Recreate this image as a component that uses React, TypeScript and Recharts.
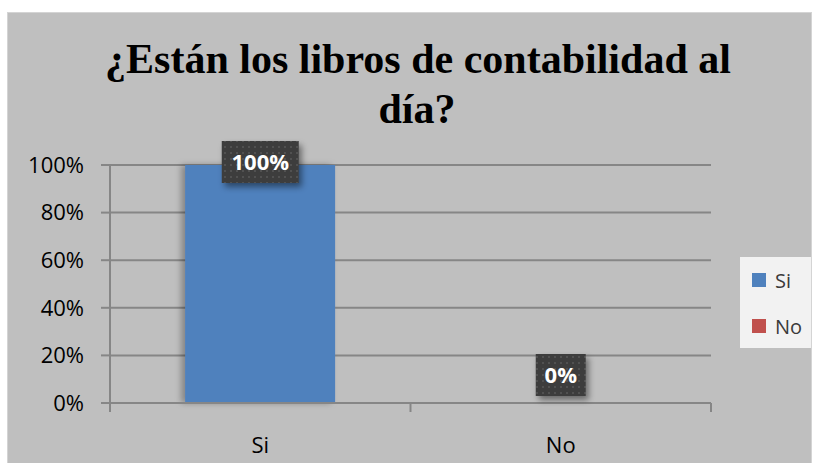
import { ComposedChart, Bar, Line, XAxis, YAxis, CartesianGrid, Legend, LabelList, Cell } from 'recharts';

const categories = ['Si', 'No'];
const percentages = [100, 0];
const barColors = ['#4f81bd', '#c0504d'];
const yTicks = [0, 20, 40, 60, 80, 100];
const titleLines = ['¿Están los libros de contabilidad al', 'día?'];

const data = categories.map((name, i) => ({ name, valor: percentages[i] }));

const FONT = '"Open Sans", Lato, sans-serif';
const GRID = '#868686';

// Tick personalizado: texto de la categoría + marcas en los límites de la banda
const CategoryTick = (props: any) => {
  const { x, y, payload, index } = props;
  const axisY = y - 8 - 26;
  const half = payload.offset || 0;
  return (
    <g>
      <line x1={x - half} y1={axisY} x2={x - half} y2={axisY + 9} stroke={GRID} strokeWidth={2} />
      {index === categories.length - 1 && (
        <line x1={x + half} y1={axisY} x2={x + half} y2={axisY + 9} stroke={GRID} strokeWidth={2} />
      )}
      <text x={x} y={axisY + 50} textAnchor="middle" fontSize={22} fontFamily={FONT} fill="#000">
        {payload.value}
      </text>
    </g>
  );
};

// Etiqueta oscura con trama de puntos
const ValueLabel = (props: any) => {
  const { x, y, width, value } = props;
  const text = `${value}%`;
  const w = 23 + 13.5 * text.length;
  const h = 42;
  const cx = x + (width || 0) / 2;
  // Excel la sube por encima de la barra, pero la mantiene dentro del gráfico
  const cy = Math.max(y - 28, 162);
  return (
    <g>
      <rect x={cx - w / 2} y={cy - h / 2} width={w} height={h} fill="url(#dots)" filter="url(#boxShadow)" />
      <text x={cx} y={cy} dy="0.36em" textAnchor="middle" fontSize={22} fontWeight="bold" fontFamily={FONT} fill="#fff">
        {text}
      </text>
    </g>
  );
};

const LegendBox = () => (
  <div style={{ width: 71, height: 91, background: '#f2f2f2', fontFamily: FONT, fontSize: 20, color: '#3a3a3a', position: 'relative' }}>
    {categories.map((c, i) => (
      <div key={c} style={{ position: 'absolute', left: 12, top: 9 + i * 46, height: 28, display: 'flex', alignItems: 'center' }}>
        <span style={{ display: 'inline-block', width: 14, height: 14, background: barColors[i], marginRight: 9 }} />
        <span>{c}</span>
      </div>
    ))}
  </div>
);

export default function App() {
  return (
    <div style={{ position: 'absolute', left: 0, top: 0, width: 813, height: 463, background: '#fff' }}>
      <div style={{ position: 'absolute', left: 7, top: 12, width: 805, height: 451, background: '#bfbfbf', borderTop: '1px solid #d4d4d4', borderRight: '1px solid #d4d4d4', borderLeft: '1px solid #d4d4d4', boxSizing: 'border-box' }} />
      <div style={{ position: 'absolute', left: 0, top: 0 }}>
        <ComposedChart
          width={813}
          height={463}
          data={data}
          margin={{ top: 165, right: 31, bottom: 0, left: 0 }}
          barCategoryGap="25%"
        >
          <defs>
            <pattern id="dots" width="6" height="6" patternUnits="userSpaceOnUse">
              <rect width="6" height="6" fill="#3d3d3d" />
              <circle cx="3" cy="3" r="1" fill="#575757" />
            </pattern>
            <filter id="boxShadow" x="-30%" y="-30%" width="160%" height="170%">
              <feDropShadow dx="3" dy="4" stdDeviation="3" floodColor="#000" floodOpacity="0.45" />
            </filter>
            <filter id="barShadow" x="-20%" y="-5%" width="130%" height="110%">
              <feDropShadow dx="-4" dy="0" stdDeviation="3" floodColor="#000" floodOpacity="0.3" />
            </filter>
          </defs>
          <text x={418} y={73} textAnchor="middle" fontFamily='"Liberation Serif", "Times New Roman", serif' fontWeight="bold" fontSize={42} fill="#000">
            {titleLines[0]}
          </text>
          <text x={417} y={123} textAnchor="middle" fontFamily='"Liberation Serif", "Times New Roman", serif' fontWeight="bold" fontSize={42} fill="#000">
            {titleLines[1]}
          </text>
          <CartesianGrid vertical={false} stroke={GRID} strokeWidth={2} />
          <XAxis
            dataKey="name"
            height={60}
            axisLine={{ stroke: GRID, strokeWidth: 2 }}
            tickLine={false}
            tickSize={8}
            tickMargin={26}
            tick={<CategoryTick />}
          />
          <YAxis
            width={110}
            domain={[0, 100]}
            ticks={yTicks}
            tickFormatter={(v: number) => `${v}%`}
            axisLine={{ stroke: GRID, strokeWidth: 2 }}
            tickLine={{ stroke: GRID, strokeWidth: 2 }}
            tickSize={9}
            tickMargin={17}
            tick={{ fontSize: 22, fontFamily: FONT, fill: '#000' }}
          />
          <Legend
            layout="vertical"
            align="right"
            verticalAlign="middle"
            content={<LegendBox />}
            wrapperStyle={{ right: 2, top: 257, left: 'auto', bottom: 'auto' }}
          />
          <Bar dataKey="valor" isAnimationActive={false} style={{ filter: 'url(#barShadow)' }}>
            {data.map((d, i) => (
              <Cell key={d.name} fill={barColors[i]} />
            ))}
          </Bar>
          {/* línea invisible solo para colocar las etiquetas (también la de 0%) */}
          <Line
            dataKey="valor"
            stroke="none"
            dot={false}
            activeDot={false}
            legendType="none"
            isAnimationActive={false}
          >
            <LabelList dataKey="valor" content={<ValueLabel />} />
          </Line>
        </ComposedChart>
      </div>
    </div>
  );
}
